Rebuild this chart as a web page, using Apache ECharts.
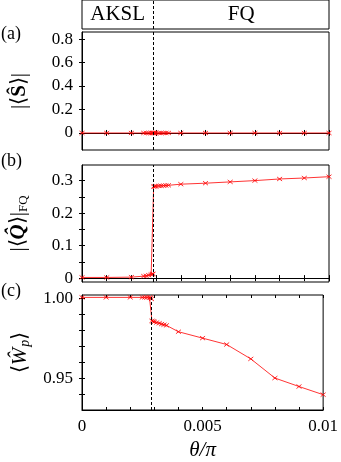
<!DOCTYPE html>
<html>
<head>
<meta charset="utf-8">
<script src="https://cdn.jsdelivr.net/npm/echarts@6/dist/echarts.min.js"></script>
<style>
  html, body { margin: 0; padding: 0; background: #fff; }
  #chart { width: 341px; height: 462px; }
</style>
</head>
<body>
<div id="chart"></div>
<script>
// theta / pi
var theta = [0, 0.001, 0.002, 0.0025, 0.0026, 0.0027, 0.0028, 0.00285, 0.00288,
  0.0029, 0.00295, 0.003, 0.0031, 0.0032, 0.0033, 0.0034, 0.0035,
  0.004, 0.005, 0.006, 0.007, 0.008, 0.009, 0.01]
var thetaC = 0.00289
var sVals = [0, 0, 0, 0, 0, 0, 0, 0, 0, 0, 0, 0, 0, 0, 0, 0, 0, 0, 0, 0, 0, 0, 0, 0]
var qVals = [0.002, 0.002, 0.003, 0.006, 0.007, 0.009, 0.011, 0.012, 0.013,
  0.2815, 0.282, 0.283, 0.2835, 0.284, 0.2845, 0.285, 0.2855,
  0.289, 0.292, 0.296, 0.300, 0.305, 0.308, 0.312]
var wVals = [1.0005, 1.0005, 1.0005, 1.0005, 1.0005, 1.0005, 1.0004, 1.0003, 0.9995,
  0.9858, 0.9855, 0.9852, 0.9848, 0.9843, 0.9838, 0.9834, 0.983,
  0.979, 0.975, 0.971, 0.962, 0.950, 0.9447, 0.9396]
var xTicks = ['0', '0.005', '0.01']
var sTicks = [0, 0.2, 0.4, 0.6, 0.8]
var qTicks = [0, 0.1, 0.2, 0.3]
var wTicks = [0.95, 1.0]
var phases = ['AKSL', 'FQ']

var chart = echarts.init(document.getElementById('chart'))
var font = 'Liberation Serif'
var cross = 'path://M0 0L10 10M0 10L10 0'

function pairs (ys) {
  return theta.map(function (x, i) { return [x, ys[i]] })
}

function dashLine () {
  return {
    silent: true, symbol: 'none', animation: false, precision: 6,
    label: { show: false },
    lineStyle: { color: '#000', type: [3, 2], width: 1 },
    data: [{ xAxis: thetaC }]
  }
}

var grids = [
  { left: 82, right: 12, top: 32, height: 118 },
  { left: 82, right: 12, top: 165, height: 117 },
  { left: 82, right: 12, top: 295, height: 117 },
  { left: 82, right: 12, top: 0, height: 29 }
].map(function (g) {
  g.show = true
  g.borderColor = '#000'
  g.borderWidth = 1
  g.backgroundColor = 'transparent'
  return g
})

var xAxes = []
for (var i = 0; i < 3; i++) {
  xAxes.push({
    type: 'value', gridIndex: i, min: 0, max: 0.01, interval: 0.001,
    axisLine: { lineStyle: { color: '#000', width: 1 } },
    axisTick: { inside: true, length: 3, lineStyle: { color: '#000' } },
    splitLine: { show: false },
    axisLabel: {
      show: i === 2, color: '#000', fontFamily: font, fontSize: 17, margin: 8,
      formatter: function (v) {
        var s = +v.toFixed(4)
        if (s === 0) return xTicks[0]
        if (s === 0.005) return xTicks[1]
        if (s === 0.01) return xTicks[2]
        return ''
      }
    },
    name: i === 2 ? 'θ/π' : '',
    nameLocation: 'middle', nameGap: 30,
    nameTextStyle: { fontFamily: font, fontSize: 21, fontStyle: 'italic', color: '#000' }
  })
  xAxes.push({
    type: 'value', gridIndex: i, position: 'top', min: 0, max: 0.01, interval: 0.001,
    axisLine: { show: false },
    axisTick: { inside: true, length: 3, lineStyle: { color: '#000' } },
    axisLabel: { show: false }, splitLine: { show: false }
  })
}
xAxes.push({ type: 'value', gridIndex: 3, min: 0, max: 0.01, show: false })

var yConf = [
  { min: -0.145, max: 0.86, ticks: sTicks, minor: sTicks,
    fmt: function (v) { return v === 0 ? '0' : String(v) },
    name: '|⟨{b|Ŝ}⟩|', gap: 52 },
  { min: -0.012, max: 0.348, ticks: qTicks, minor: [0, 0.05, 0.1, 0.15, 0.2, 0.25, 0.3],
    fmt: function (v) { return v === 0 ? '0' : String(v) },
    name: '|⟨{bi|Q̂}⟩|{sub|FQ}', gap: 52 },
  { min: 0.93, max: 1.002, ticks: wTicks, minor: [0.94, 0.95, 0.96, 0.97, 0.98, 0.99, 1.0],
    fmt: function (v) { return v.toFixed(2) },
    name: '⟨{i|Ŵ}{subi|p}⟩', gap: 48 }
]

var yAxes = []
yConf.forEach(function (c, i) {
  yAxes.push({
    type: 'value', gridIndex: i, min: c.min, max: c.max,
    axisLine: { show: true, lineStyle: { color: '#000', width: 1 } },
    axisTick: { inside: true, length: 3, customValues: c.minor, lineStyle: { color: '#000' } },
    splitLine: { show: false },
    axisLabel: {
      customValues: c.ticks, color: '#000', fontFamily: font, fontSize: 17, margin: 9,
      formatter: c.fmt
    },
    name: c.name, nameLocation: 'middle', nameGap: c.gap, nameRotate: 90,
    nameTextStyle: {
      fontFamily: font, fontSize: 21, color: '#000',
      rich: {
        b: { fontFamily: font, fontSize: 21, fontWeight: 'bold', color: '#000' },
        bi: { fontFamily: font, fontSize: 21, fontWeight: 'bold', fontStyle: 'italic', color: '#000' },
        i: { fontFamily: font, fontSize: 21, fontStyle: 'italic', color: '#000' },
        sub: { fontFamily: font, fontSize: 13, color: '#000', padding: [10, 0, 0, 0] },
        subi: { fontFamily: font, fontSize: 14, fontStyle: 'italic', color: '#000', padding: [10, 0, 0, 1] }
      }
    }
  })
  yAxes.push({
    type: 'value', gridIndex: i, position: 'right', min: c.min, max: c.max,
    axisLine: { show: false },
    axisTick: { inside: true, length: 3, customValues: c.minor, lineStyle: { color: '#000' } },
    axisLabel: { show: false }, splitLine: { show: false }
  })
})
yAxes.push({ type: 'value', gridIndex: 3, min: 0, max: 1, show: false })

var series = [sVals, qVals, wVals].map(function (ys, i) {
  return {
    type: 'line', xAxisIndex: i * 2, yAxisIndex: i * 2,
    data: pairs(ys),
    symbol: cross, symbolSize: [5, 4],
    lineStyle: { color: '#ff0000', width: 0.8 },
    itemStyle: { color: '#ff0000', borderColor: '#ff0000', borderWidth: 0.8 },
    markLine: dashLine(),
    z: 3
  }
})
// phase box on top
series.push({
  type: 'line', xAxisIndex: 6, yAxisIndex: 6,
  data: [[0, -1], [0.01, -1]],
  symbol: 'none', lineStyle: { opacity: 0 },
  markLine: dashLine(),
  markArea: {
    silent: true, precision: 6,
    itemStyle: { color: 'transparent' },
    label: { position: 'inside', fontFamily: font, fontSize: 21, color: '#000' },
    data: [
      [{ name: phases[0], xAxis: 0, yAxis: 0 }, { xAxis: thetaC, yAxis: 1 }],
      [{ name: phases[1], xAxis: thetaC, yAxis: 0 }, { xAxis: 0.01, yAxis: 1 }]
    ]
  }
})

chart.setOption({
  animation: false,
  backgroundColor: '#fff',
  grid: grids,
  xAxis: xAxes,
  yAxis: yAxes,
  series: series,
  graphic: [
    { type: 'text', left: 1, top: 25, style: { text: '(a)', fontFamily: font, fontSize: 18, fill: '#000' } },
    { type: 'text', left: 1, top: 152, style: { text: '(b)', fontFamily: font, fontSize: 18, fill: '#000' } },
    { type: 'text', left: 1, top: 282, style: { text: '(c)', fontFamily: font, fontSize: 18, fill: '#000' } }
  ]
})
</script>
</body>
</html>
